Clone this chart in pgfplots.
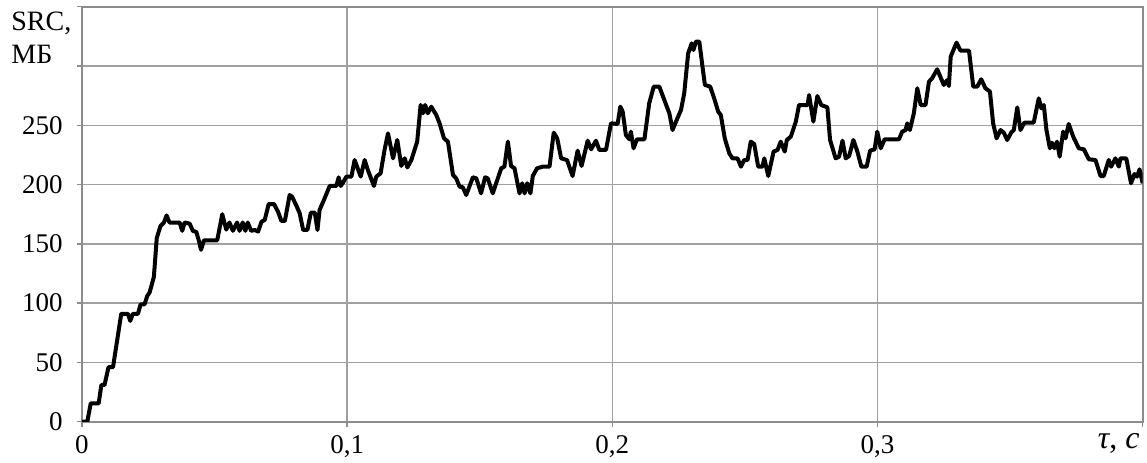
\documentclass[border=0pt]{standalone}
\usepackage{pgfplots}
\pgfplotsset{compat=1.18}
\usepackage{fontspec}
\setmainfont{Liberation Serif}
\definecolor{gridgray}{RGB}{160,160,160}
\definecolor{axgray}{RGB}{140,140,140}
\pgfplotstableread{
x y
0.0000 0
0.0020 0
0.0033 15.5
0.0063 15.5
0.0073 31
0.0085 31
0.0100 46
0.0117 46
0.0148 91
0.0173 91
0.0182 85
0.0192 91
0.0211 91
0.0221 99
0.0236 99
0.0246 106
0.0255 109
0.0271 122
0.0282 155
0.0296 165
0.0309 168
0.0319 174
0.0330 168
0.0368 168
0.0378 161
0.0387 168
0.0406 167
0.0418 161
0.0431 160
0.0439 154
0.0449 145
0.0460 153
0.0510 153
0.0529 175
0.0544 162
0.0556 168
0.0569 161
0.0585 168
0.0594 161
0.0606 168
0.0616 161
0.0625 168
0.0638 161
0.0652 161.7
0.0664 160.3
0.0677 168.7
0.0689 170.1
0.0704 183.6
0.0724 183.6
0.0739 177.2
0.0752 169.3
0.0765 169.3
0.0783 191.2
0.0792 189.8
0.0809 182
0.0821 175.7
0.0834 161.7
0.0850 161.7
0.0863 176.3
0.0878 176.3
0.0888 161.7
0.0896 178.6
0.0915 188.4
0.0934 198.8
0.0959 198.8
0.0968 206.1
0.0976 198.8
0.0984 201.6
0.0997 206.7
0.1016 206.7
0.1028 220.7
0.1041 212.9
0.1051 206.7
0.1066 220.7
0.1078 212.3
0.1101 198.8
0.1110 206.7
0.1126 209.5
0.1141 229.2
0.1154 243.2
0.1173 222.1
0.1189 237.6
0.1204 215.7
0.1217 222.1
0.1227 214.5
0.1242 220.7
0.1264 236.2
0.1277 267.1
0.1286 260.1
0.1294 267.1
0.1304 260.1
0.1317 265.7
0.1336 258.7
0.1348 252
0.1365 239
0.1380 236.2
0.1399 208.1
0.1411 205.3
0.1424 198.2
0.1436 197.7
0.1449 191.2
0.1474 206.1
0.1487 205.3
0.1505 192.6
0.1520 206.1
0.1530 205.3
0.1549 192.6
0.1581 213.7
0.1593 215.1
0.1606 236.2
0.1618 215.7
0.1631 213.7
0.1650 192.6
0.1660 201.1
0.1669 192.6
0.1679 201.1
0.1691 192.6
0.1700 207.2
0.1716 213.7
0.1737 215.1
0.1763 215.1
0.1779 243.8
0.1792 239
0.1807 222.1
0.1829 220.7
0.1850 207.2
0.1869 228.6
0.1884 215.7
0.1907 237
0.1920 229.7
0.1938 237
0.1951 229.2
0.1976 229.2
0.1995 251.7
0.2020 251.1
0.2030 265.7
0.2039 261.5
0.2051 241.8
0.2064 238.2
0.2070 244.6
0.2080 230.6
0.2093 238.2
0.2121 238.2
0.2139 268.5
0.2156 282.6
0.2177 282.6
0.2196 271.3
0.2215 260.1
0.2227 246
0.2240 253.1
0.2259 262.9
0.2271 277
0.2286 310.7
0.2299 319.1
0.2306 313.5
0.2315 320.5
0.2328 320.5
0.2340 299.4
0.2349 284
0.2369 282.6
0.2384 272.7
0.2399 261.5
0.2409 258.7
0.2424 239
0.2441 226.3
0.2453 222.1
0.2472 222.1
0.2485 215.1
0.2497 220.7
0.2510 220.7
0.2522 236.2
0.2535 234.2
0.2550 215.1
0.2566 215.1
0.2573 222.1
0.2588 207.2
0.2608 227.8
0.2623 229.2
0.2635 236.2
0.2650 227.8
0.2658 237.6
0.2673 240.4
0.2692 253.1
0.2704 267.1
0.2736 267.1
0.2742 275.5
0.2758 253.1
0.2773 274.7
0.2788 267.1
0.2811 265.1
0.2821 237.6
0.2842 222.1
0.2855 223.5
0.2868 237
0.2880 222.1
0.2893 224.1
0.2909 237.6
0.2924 227.8
0.2939 215.1
0.2959 215.1
0.2972 228.6
0.2989 229.7
0.2999 244.6
0.3012 230.6
0.3027 238.2
0.3081 238.2
0.3093 244.6
0.3106 246
0.3112 251.6
0.3122 246
0.3137 260.1
0.3150 281.2
0.3163 267.1
0.3181 267.1
0.3194 286.8
0.3206 289.6
0.3225 297.2
0.3250 284
0.3263 288.2
0.3269 283.1
0.3276 307.9
0.3298 319.7
0.3313 312.9
0.3345 312.9
0.3361 282.6
0.3376 282.6
0.3391 288.8
0.3407 281.2
0.3424 278.4
0.3436 251.6
0.3449 239
0.3464 246
0.3476 243.8
0.3489 237.6
0.3504 243.8
0.3514 246
0.3527 265.1
0.3539 246
0.3554 252.2
0.3589 252.2
0.3608 272.7
0.3618 264.3
0.3627 267.1
0.3637 246
0.3650 230.6
0.3658 235.3
0.3667 230.6
0.3677 236.2
0.3687 223.5
0.3700 244.6
0.3709 239
0.3721 251.1
0.3738 240.4
0.3759 230.6
0.3778 229.7
0.3797 221.3
0.3822 220.7
0.3841 207.2
0.3853 207.2
0.3872 220.7
0.3881 215.1
0.3897 222.1
0.3910 215.1
0.3916 222.1
0.3938 222.1
0.3956 201.1
0.3969 208.9
0.3979 206.7
0.3988 212.9
0.4000 201.1
}\srcdata
\begin{document}
\fontsize{13.5}{15}\selectfont
\begin{tikzpicture}
\begin{axis}[
  scale only axis,
  width=530.35pt, height=207.5pt,
  xmin=0, xmax=0.4, ymin=0, ymax=350,
  xtick={0,0.1,0.2,0.3,0.4},
  xticklabels={0,{0,1},{0,2},{0,3},{}},
  ytick={0,50,100,150,200,250,300,350},
  yticklabels={0,50,100,150,200,250,{},{}},
  grid=major,
  grid style={gridgray, line width=0.7pt},
  axis line style={axgray, line width=0.8pt},
  tick style={axgray, line width=0.7pt},
  tick align=outside,
  major tick length=2.5pt,
  xtick pos=bottom, ytick pos=left,
  /pgf/number format/assume math mode=true,
  ticklabel style={font=\fontsize{13.5}{15}\selectfont, inner sep=0pt},
  yticklabel shift=7pt,
  xticklabel shift=4pt,
  clip=true,
]
\addplot[black, line width=2pt, line join=round] table[x=x,y=y] {\srcdata};
\end{axis}
\node[anchor=north west, align=left, inner sep=0pt, font=\fontsize{14}{16.5}\selectfont] at (-35.5pt,205pt) {SRC,\\МБ};
\node[anchor=base east, inner sep=0pt, font=\fontsize{16}{18}\selectfont] at (529pt,-13.2pt) {{\itshape τ}, {\itshape с}};
\pgfresetboundingbox
\path[use as bounding box] (-41pt,-20.15pt) rectangle (532.5pt,210.85pt);
\end{tikzpicture}
\end{document}
